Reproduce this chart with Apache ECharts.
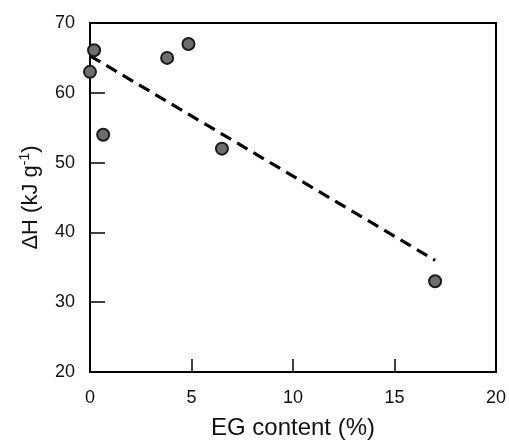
<!DOCTYPE html>
<html>
<head>
<meta charset="utf-8">
<script src="https://cdn.jsdelivr.net/npm/echarts@6/dist/echarts.min.js"></script>
<style>
  html, body { margin: 0; padding: 0; background: #fff; }
  #chart { width: 509px; height: 446px; }
</style>
</head>
<body>
<div id="chart"></div>
<script>
// measured points: EG content (%) vs enthalpy
const egContent = [0, 0.2, 0.65, 3.8, 4.85, 6.5, 17];
const deltaH = [63, 66.1, 54, 65, 67, 52, 33];
// fitted trend (dashed)
const fitX = [0, 17];
const fitY = [65.3, 36];

const chart = echarts.init(document.getElementById('chart'));
const font = 'Liberation Sans, Arial, sans-serif';

const option = {
  animation: false,
  grid: {
    left: 90, right: 10, top: 23, bottom: 74,
    show: true, borderColor: '#000', borderWidth: 2
  },
  xAxis: {
    type: 'value', min: 0, max: 20, interval: 5,
    name: 'EG content (%)', nameLocation: 'middle', nameGap: 44,
    nameTextStyle: { fontFamily: font, fontSize: 24, color: '#111' },
    axisLine: { show: true, lineStyle: { color: '#000', width: 2 } },
    axisTick: { show: true, inside: true, length: 13, lineStyle: { color: '#000', width: 1.5 } },
    axisLabel: { margin: 17, fontFamily: font, fontSize: 18, color: '#111' },
    splitLine: { show: false }
  },
  yAxis: {
    type: 'value', min: 20, max: 70, interval: 10,
    name: '{a|ΔH (kJ g}{s|-1}{a|)}', nameLocation: 'middle', nameGap: 47,
    nameTextStyle: {
      rich: {
        a: { fontFamily: font, fontSize: 22, color: '#111' },
        s: { fontFamily: font, fontSize: 14, color: '#111', verticalAlign: 'bottom', padding: [0, 0, 11, 0] }
      }
    },
    axisLine: { show: true, lineStyle: { color: '#000', width: 2 } },
    axisTick: { show: true, inside: true, length: 15, lineStyle: { color: '#000', width: 1.5 } },
    axisLabel: { margin: 15, fontFamily: font, fontSize: 18, color: '#111' },
    splitLine: { show: false }
  },
  series: [
    {
      type: 'line',
      data: fitX.map((x, i) => [x, fitY[i]]),
      showSymbol: false,
      lineStyle: { color: '#000', width: 3.2, type: [12, 7] },
      z: 2
    },
    {
      type: 'scatter',
      data: egContent.map((x, i) => [x, deltaH[i]]),
      symbolSize: 12,
      itemStyle: { color: '#6e6e6e', borderColor: '#1a1a1a', borderWidth: 2, opacity: 1 },
      z: 3
    }
  ]
};
chart.setOption(option);
</script>
</body>
</html>
